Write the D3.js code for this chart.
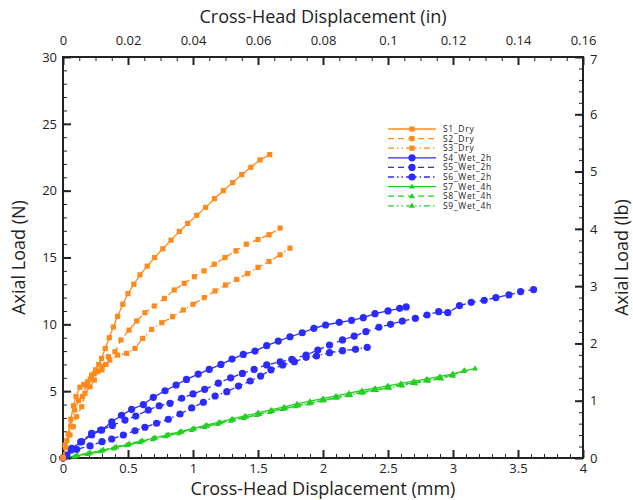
<!DOCTYPE html>
<html>
<head>
<meta charset="utf-8">
<script src="https://cdn.jsdelivr.net/npm/d3@7"></script>
<style>
  body { margin: 0; background: #fff; }
  text { font-family: "Open Sans", "Noto Sans", sans-serif; fill: #222; }
</style>
</head>
<body>
<svg></svg>
<script>
// tick labels
const mmTicks = [0, 0.5, 1, 1.5, 2, 2.5, 3, 3.5, 4];
const inTicks = [0, 0.02, 0.04, 0.06, 0.08, 0.1, 0.12, 0.14, 0.16];
const nTicks = [0, 5, 10, 15, 20, 25, 30];
const lbTicks = [0, 1, 2, 3, 4, 5, 6, 7];

const seriesNames = ['S1_Dry', 'S2_Dry', 'S3_Dry', 'S4_Wet_2h', 'S5_Wet_2h', 'S6_Wet_2h', 'S7_Wet_4h', 'S8_Wet_4h', 'S9_Wet_4h'];

// [displacement mm, load N]
const s1 = [[0,0],[0.02,0.8],[0.04,1.8],[0.06,2.9],[0.08,3.9],[0.1,4.6],[0.13,5.3],[0.16,5.5],[0.19,5.7],[0.22,6.2],[0.25,6.6],[0.275,7.0],[0.297,7.45],[0.325,8.2],[0.356,9.0],[0.387,9.8],[0.42,10.6],[0.46,11.5],[0.5,12.3],[0.545,13.0],[0.592,13.7],[0.648,14.35],[0.705,15.0],[0.768,15.65],[0.831,16.3],[0.895,16.95],[0.959,17.55],[1.028,18.15],[1.097,18.75],[1.165,19.4],[1.233,20.0],[1.304,20.6],[1.375,21.2],[1.445,21.75],[1.515,22.3],[1.59,22.7]];
const s2 = [[0,0],[0.015,0.97],[0.054,1.72],[0.079,2.34],[0.105,3.09],[0.144,3.84],[0.169,4.84],[0.208,5.33],[0.241,5.83],[0.259,6.45],[0.297,6.83],[0.349,7.58],[0.4,7.95],[0.446,8.83],[0.508,9.57],[0.567,10.25],[0.63,10.87],[0.702,11.37],[0.78,11.94],[0.856,12.57],[0.933,13.07],[1.01,13.56],[1.085,14.0],[1.164,14.5],[1.246,15.0],[1.33,15.5],[1.41,16.0],[1.5,16.35],[1.585,16.7],[1.67,17.2]];
const s3 = [[0,0],[0.03,1.3],[0.06,2.4],[0.09,3.6],[0.12,4.3],[0.15,4.6],[0.18,5.4],[0.21,5.9],[0.24,6.3],[0.27,6.5],[0.3,6.6],[0.33,7.0],[0.36,7.33],[0.42,7.7],[0.49,7.83],[0.554,8.2],[0.613,8.95],[0.682,9.62],[0.76,10.12],[0.843,10.57],[0.925,11.07],[1.0,11.5],[1.087,12.0],[1.17,12.5],[1.25,12.94],[1.336,13.36],[1.42,13.8],[1.5,14.26],[1.585,14.7],[1.67,15.2],[1.746,15.7]];
const s4 = [[0,0],[0.067,0.73],[0.144,1.22],[0.22,1.72],[0.298,2.09],[0.375,2.7],[0.45,3.2],[0.528,3.64],[0.618,4.0],[0.695,4.54],[0.785,5.03],[0.87,5.46],[0.95,5.88],[1.04,6.28],[1.125,6.63],[1.215,7.0],[1.3,7.4],[1.387,7.75],[1.477,8.0],[1.567,8.4],[1.656,8.75],[1.746,9.07],[1.84,9.37],[1.93,9.7],[2.02,9.95],[2.125,10.15],[2.22,10.3],[2.31,10.5],[2.4,10.8],[2.5,11.0],[2.59,11.2],[2.64,11.3]];
const s5 = [[0,0],[0.062,0.6],[0.136,1.2],[0.22,1.85],[0.29,2.09],[0.38,2.44],[0.477,2.84],[0.56,3.14],[0.656,3.59],[0.74,3.91],[0.823,4.09],[0.913,4.47],[1.0,4.79],[1.09,5.14],[1.195,5.6],[1.29,6.0],[1.38,6.33],[1.47,6.63],[1.567,6.96],[1.67,7.2],[1.76,7.38],[1.87,7.7],[1.96,8.08],[2.05,8.45],[2.15,8.83],[2.24,9.12],[2.33,9.45],[2.43,9.78],[2.52,10.0],[2.61,10.25],[2.71,10.45],[2.8,10.7],[2.89,10.95],[2.96,10.87],[3.05,11.4],[3.14,11.65],[3.24,11.8],[3.33,12.0],[3.43,12.2],[3.52,12.45],[3.62,12.6]];
const s6 = [[0,0],[0.03,0.22],[0.105,0.65],[0.208,0.9],[0.3,1.22],[0.375,1.42],[0.464,1.72],[0.554,2.04],[0.63,2.3],[0.72,2.6],[0.81,2.9],[0.9,3.29],[0.99,3.75],[1.08,4.17],[1.17,4.64],[1.26,4.96],[1.35,5.38],[1.44,5.76],[1.52,6.13],[1.6,6.6],[1.69,6.96],[1.78,7.2],[1.87,7.53],[1.95,7.63],[2.05,7.88],[2.15,8.03],[2.25,8.13],[2.34,8.28]];
const s7 = [[0,0],[0.1,0.15],[0.2,0.35],[0.3,0.55],[0.4,0.78],[0.5,1.0],[0.6,1.25],[0.7,1.5],[0.8,1.72],[0.9,1.97],[1.0,2.2],[1.1,2.45],[1.2,2.68],[1.3,2.92],[1.4,3.15],[1.5,3.38],[1.6,3.6],[1.7,3.82],[1.8,4.05],[1.9,4.25],[2.0,4.45],[2.1,4.65],[2.2,4.85],[2.3,5.05],[2.4,5.22],[2.5,5.4],[2.6,5.58],[2.7,5.75],[2.8,5.92],[2.9,6.1],[3.0,6.3],[3.08,6.5],[3.17,6.7]];
const s8 = [[0,0],[0.09,0.12],[0.19,0.3],[0.29,0.5],[0.39,0.72],[0.49,0.95],[0.59,1.18],[0.69,1.4],[0.79,1.63],[0.89,1.86],[0.99,2.1],[1.09,2.32],[1.19,2.55],[1.29,2.78],[1.39,3.0],[1.49,3.22],[1.59,3.45],[1.69,3.66],[1.79,3.88],[1.89,4.08],[1.99,4.3],[2.09,4.5],[2.19,4.7],[2.29,4.9],[2.39,5.08],[2.49,5.27],[2.59,5.45],[2.69,5.62],[2.79,5.8],[2.89,5.98],[2.99,6.2],[3.09,6.55]];
const s9 = [[0,0],[0.11,0.2],[0.21,0.4],[0.31,0.62],[0.41,0.85],[0.51,1.07],[0.61,1.3],[0.71,1.52],[0.81,1.75],[0.91,1.98],[1.01,2.2],[1.11,2.42],[1.21,2.65],[1.31,2.87],[1.41,3.08],[1.51,3.3],[1.61,3.52],[1.71,3.73],[1.81,3.93],[1.91,4.13],[2.01,4.32],[2.11,4.52],[2.21,4.72],[2.31,4.9],[2.41,5.08],[2.51,5.25],[2.61,5.42],[2.71,5.6],[2.81,5.78],[2.91,5.95],[3.0,6.15]];

const seriesData = [s1, s2, s3, s4, s5, s6, s7, s8, s9];

const orange = '#ff8a1c';
const blue = '#2b2bff';
const green = '#22d022';
const colors = [orange, orange, orange, blue, blue, blue, green, green, green];
const markers = ['square', 'square', 'square', 'circle', 'circle', 'circle', 'triangle', 'triangle', 'triangle'];
const dashes = [null, '6,4', '6,3,1.5,3,1.5,3', null, '6,4', '6,3,1.5,3,1.5,3', null, '6,4', '6,3,1.5,3,1.5,3'];

const width = 633;
const height = 500;
const plotLeft = 63, plotRight = 583, plotTop = 57, plotBottom = 458;

const svg = d3.select('svg')
  .attr('width', width)
  .attr('height', height);

const x = d3.scaleLinear().domain([0, 4]).range([plotLeft, plotRight]);
const xIn = d3.scaleLinear().domain([0, 0.16]).range([plotLeft, plotRight]);
const y = d3.scaleLinear().domain([0, 30]).range([plotBottom, plotTop]);
const yLb = d3.scaleLinear().domain([0, 7]).range([plotBottom, plotTop]);

// minor ticks first, then major ticks with labels
const minorTicks = (axis, scale, values, pos) => {
  const g = svg.append('g')
    .attr('transform', pos)
    .call(axis(scale).tickValues(values).tickSize(-4).tickFormat(''));
  g.select('.domain').remove();
  g.selectAll('line').attr('stroke', '#222').attr('stroke-width', 1);
};

const steps = (a, b, step) => d3.range(0, Math.round((b - a) / step) + 1).map(i => +(a + i * step).toFixed(4));

minorTicks(d3.axisBottom, x, steps(0, 4, 0.1), `translate(0,${plotBottom})`);
minorTicks(d3.axisTop, xIn, steps(0, 0.16, 0.005), `translate(0,${plotTop})`);
minorTicks(d3.axisLeft, y, steps(0, 30, 1), `translate(${plotLeft},0)`);
minorTicks(d3.axisRight, yLb, steps(0, 7, 0.2), `translate(${plotRight},0)`);

const majorTicks = (axis, scale, values, pos, pad) => {
  const g = svg.append('g')
    .attr('transform', pos)
    .call(axis(scale).tickValues(values).tickSize(-8).tickPadding(pad).tickFormat(d => d));
  g.select('.domain').remove();
  g.selectAll('line').attr('stroke', '#222').attr('stroke-width', 2);
  g.selectAll('text')
    .style('font-family', '"Open Sans", sans-serif')
    .style('font-size', '13px')
    .attr('fill', '#222');
  return g;
};

majorTicks(d3.axisBottom, x, mmTicks, `translate(0,${plotBottom})`, 6);
majorTicks(d3.axisTop, xIn, inTicks, `translate(0,${plotTop})`, 12);
majorTicks(d3.axisLeft, y, nTicks, `translate(${plotLeft},0)`, 6);
const rightAxis = majorTicks(d3.axisRight, yLb, lbTicks, `translate(${plotRight},0)`, 7);

// the top "7" sits just under the "0.16" label
rightAxis.selectAll('text')
  .filter(d => d === 7)
  .attr('dy', '0.5em');

svg.append('rect')
  .attr('x', plotLeft)
  .attr('y', plotTop)
  .attr('width', plotRight - plotLeft)
  .attr('height', plotBottom - plotTop)
  .attr('fill', 'none')
  .attr('stroke', '#222')
  .attr('stroke-width', 2);

// axis titles
svg.append('text')
  .attr('x', (plotLeft + plotRight) / 2)
  .attr('y', 23)
  .attr('text-anchor', 'middle')
  .style('font-size', '18px')
  .text('Cross-Head Displacement (in)');

svg.append('text')
  .attr('x', (plotLeft + plotRight) / 2)
  .attr('y', 495)
  .attr('text-anchor', 'middle')
  .style('font-size', '18px')
  .text('Cross-Head Displacement (mm)');

svg.append('text')
  .attr('transform', `translate(25,${(plotTop + plotBottom) / 2}) rotate(-90)`)
  .attr('text-anchor', 'middle')
  .style('font-size', '18px')
  .text('Axial Load (N)');

svg.append('text')
  .attr('transform', `translate(628,${(plotTop + plotBottom) / 2}) rotate(-90)`)
  .attr('text-anchor', 'middle')
  .style('font-size', '18px')
  .text('Axial Load (lb)');

const line = d3.line()
  .x(d => x(d[0]))
  .y(d => y(d[1]));

const drawMarker = (g, type, cx, cy, color) => {
  if (type === 'square') {
    g.append('rect')
      .attr('x', cx - 2.6).attr('y', cy - 2.6)
      .attr('width', 5.2).attr('height', 5.2)
      .attr('fill', color);
  } else if (type === 'circle') {
    g.append('circle')
      .attr('cx', cx).attr('cy', cy).attr('r', 3.6)
      .attr('fill', color);
  } else {
    g.append('path')
      .attr('d', `M${cx},${cy - 3.2}L${cx + 3},${cy + 2}L${cx - 3},${cy + 2}Z`)
      .attr('fill', color);
  }
};

const plot = svg.append('g');

// draw wet 4h first, dry last
[6, 7, 8, 3, 4, 5, 0, 1, 2].forEach(i => {
  const g = plot.append('g');
  g.append('path')
    .datum(seriesData[i])
    .attr('d', line)
    .attr('fill', 'none')
    .attr('stroke', colors[i])
    .attr('stroke-width', 1.3)
    .attr('stroke-dasharray', dashes[i]);
  seriesData[i].forEach(d => drawMarker(g, markers[i], x(d[0]), y(d[1]), colors[i]));
});

// legend
const legend = svg.append('g')
  .attr('transform', 'translate(388,129)');

seriesNames.forEach((name, i) => {
  const row = legend.append('g')
    .attr('transform', `translate(0,${i * 9.6})`);
  row.append('line')
    .attr('x1', 0).attr('x2', 48)
    .attr('y1', 0).attr('y2', 0)
    .attr('stroke', colors[i])
    .attr('stroke-width', 1.3)
    .attr('stroke-dasharray', dashes[i]);
  drawMarker(row, markers[i], 24, 0, colors[i]);
  row.append('text')
    .attr('x', 55)
    .attr('y', 3)
    .style('font-size', '8.5px')
    .style('letter-spacing', '0.7px')
    .text(name);
});
</script>
</body>
</html>
